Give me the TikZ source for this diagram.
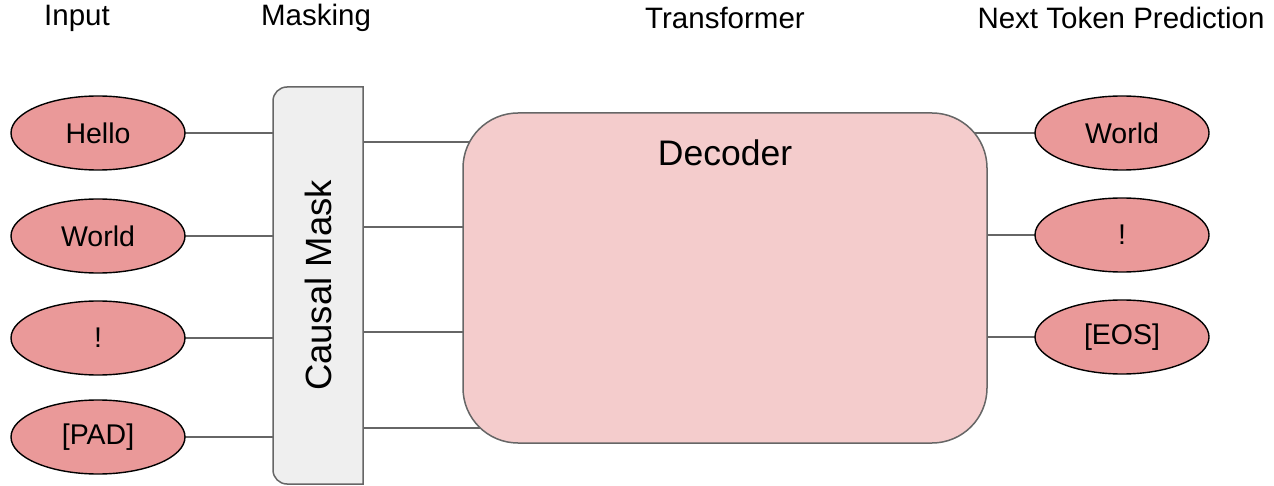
\documentclass[tikz,border=0pt]{standalone}
\usepackage{fontspec}
\setmainfont{Liberation Sans}
\usetikzlibrary{shapes.geometric,backgrounds}
\definecolor{tokfill}{HTML}{EA9999}
\definecolor{decfill}{HTML}{F4CCCC}
\definecolor{maskfill}{HTML}{EFEFEF}
\definecolor{edgegray}{HTML}{666666}
\tikzset{
  tok/.style={ellipse,draw=black,line width=1.4pt,fill=tokfill,minimum width=174pt,minimum height=74pt,inner sep=0pt,font=\fontsize{28.5}{34}\selectfont},
  header/.style={font=\fontsize{29.5}{35}\selectfont,inner sep=0pt},
  conn/.style={draw=edgegray,line width=1.5pt},
}
\begin{document}
\begin{tikzpicture}[x=1pt,y=1pt]
\useasboundingbox (0,0) rectangle (1274,485);
% headers
\node[header] (hin) at (77,467) {Input};
\node[header] (hmask) at (316,467) {Masking};
\node[header] (htr) at (725,467) {Transformer};
\node[header] (hnext) at (1121,467) {Next Token Prediction};
% mask box
\draw[edgegray,line width=1.5pt,fill=maskfill] (363,398) -- (287,398) arc[start angle=90,end angle=180,radius=14] -- (273,15) arc[start angle=180,end angle=270,radius=14] -- (363,1) -- cycle;
\node[minimum width=90pt,minimum height=397pt,inner sep=0pt] (mask) at (318,199.5) {};
\node[rotate=90,font=\fontsize{36.5}{42}\selectfont,inner sep=0pt] (masktext) at (mask.center) {Causal Mask};
% decoder
\node[draw=edgegray,line width=1.5pt,fill=decfill,rounded corners=55pt,minimum width=524pt,minimum height=330pt,inner sep=0pt] (dec) at (725,207) {};
\node[font=\fontsize{35.5}{42}\selectfont,inner sep=0pt] (dectext) at (725,332) {Decoder};
% inputs
\node[tok] (i1) at (98,352) {Hello};
\node[tok] (i2) at (98,249) {World};
\node[tok] (i3) at (98,147) {!};
\node[tok] (i4) at (98,48) {[PAD]};
% outputs
\node[tok] (o1) at (1122,352) {World};
\node[tok] (o2) at (1122,250) {!};
\node[tok] (o3) at (1122,148) {[EOS]};
% connectors
\begin{pgfonlayer}{background}
\draw[conn] (i1.center) -- (mask.west |- i1.center);
\draw[conn] (i2.center) -- (mask.west |- i2.center);
\draw[conn] (i3.center) -- (mask.west |- i3.center);
\draw[conn] (i4.center) -- (mask.west |- i4.center);
\coordinate (m1) at (363,343);
\coordinate (m2) at (363,258);
\coordinate (m3) at (363,153);
\coordinate (m4) at (363,57);
\draw[conn] (m1) -- (dec.center |- m1);
\draw[conn] (m2) -- (dec.center |- m2);
\draw[conn] (m3) -- (dec.center |- m3);
\draw[conn] (m4) -- (dec.center |- m4);
\draw[conn] (dec.center |- o1.center) -- (o1.center);
\draw[conn] (dec.center |- o2.center) -- (o2.center);
\draw[conn] (dec.center |- o3.center) -- (o3.center);
\end{pgfonlayer}
\end{tikzpicture}
\end{document}
